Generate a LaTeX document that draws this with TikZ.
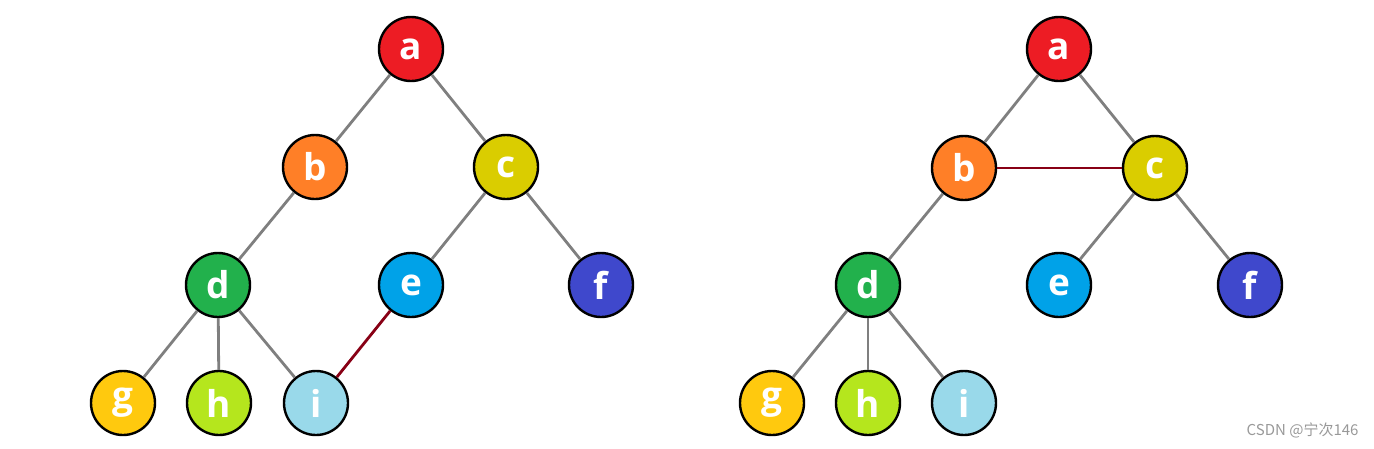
\documentclass[tikz,border=0pt]{standalone}
\usepackage{fontspec}
\setmainfont{Open Sans}
\newfontfamily\cjk{Noto Sans CJK SC}
\definecolor{ca}{HTML}{ED1C24}
\definecolor{cb}{HTML}{FF7F27}
\definecolor{cc}{HTML}{DACD00}
\definecolor{cd}{HTML}{22B14C}
\definecolor{ce}{HTML}{00A2E8}
\definecolor{cf}{HTML}{3F48CC}
\definecolor{cg}{HTML}{FFC90E}
\definecolor{ch}{HTML}{B5E61D}
\definecolor{ci}{HTML}{99D9EA}
\definecolor{edgegray}{HTML}{7F7F7F}
\definecolor{edgered}{HTML}{880015}
\tikzset{
  vtx/.style={circle, draw=black, line width=2.4pt, minimum size=64pt, inner sep=0pt,
    text=white, font=\fontsize{37}{37}\selectfont\bfseries},
  tedge/.style={draw=edgegray, line width=2.8pt},
  redge/.style={draw=edgered, line width=2.8pt},
}
\begin{document}
\begin{tikzpicture}[x=1pt,y=-1pt]
\useasboundingbox (0,0) rectangle (1374,448);
% left tree
\node[vtx, fill=ca] (La) at (411,49) {a};
\node[vtx, fill=cb] (Lb) at (315,167) {b};
\node[vtx, fill=cc] (Lc) at (506,167) {c};
\node[vtx, fill=cd] (Ld) at (218,285) {d};
\node[vtx, fill=ce] (Le) at (411,285) {e};
\node[vtx, fill=cf] (Lf) at (601,285) {f};
\node[vtx, fill=cg] (Lg) at (123,403) {g};
\node[vtx, fill=ch] (Lh) at (219,403) {h};
\node[vtx, fill=ci] (Li) at (316,403) {i};
\draw[tedge] (La) -- (Lb);
\draw[tedge] (La) -- (Lc);
\draw[tedge] (Lb) -- (Ld);
\draw[tedge] (Lc) -- (Le);
\draw[tedge] (Lc) -- (Lf);
\draw[tedge] (Ld) -- (Lg);
\draw[tedge] (Ld) -- (Lh);
\draw[tedge] (Ld) -- (Li);
\draw[redge] (Le) -- (Li);
% right tree
\node[vtx, fill=ca] (Ra) at (1059,49) {a};
\node[vtx, fill=cb] (Rb) at (964,168) {b};
\node[vtx, fill=cc] (Rc) at (1155,168) {c};
\node[vtx, fill=cd] (Rd) at (868,285) {d};
\node[vtx, fill=ce] (Re) at (1059,285) {e};
\node[vtx, fill=cf] (Rf) at (1250,285) {f};
\node[vtx, fill=cg] (Rg) at (772,403) {g};
\node[vtx, fill=ch] (Rh) at (868,403) {h};
\node[vtx, fill=ci] (Ri) at (964,403) {i};
\draw[tedge] (Ra) -- (Rb);
\draw[tedge] (Ra) -- (Rc);
\draw[tedge] (Rb) -- (Rd);
\draw[tedge] (Rc) -- (Re);
\draw[tedge] (Rc) -- (Rf);
\draw[tedge] (Rd) -- (Rg);
\draw[tedge] (Rd) -- (Rh);
\draw[tedge] (Rd) -- (Ri);
\draw[redge] (Rb) -- (Rc);
\node[text=gray!80, font=\cjk\fontsize{15}{15}\selectfont, anchor=east] (wm) at (1362,430) {CSDN @宁次146};
\end{tikzpicture}
\end{document}
